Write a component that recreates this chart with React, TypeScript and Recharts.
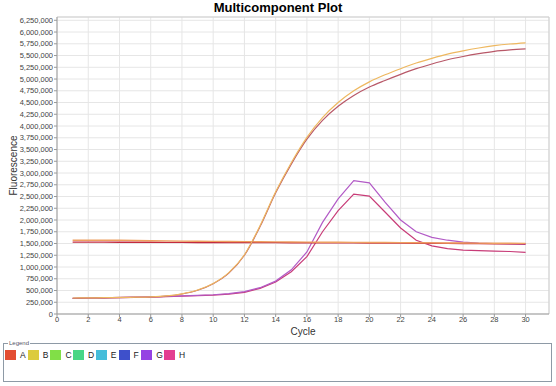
import React from 'react';
import { LineChart, Line, XAxis, YAxis, CartesianGrid, ReferenceLine, Label } from 'recharts';

const cycles = [1,2,3,4,5,6,7,8,9,10,11,12,13,14,15,16,17,18,19,20,21,22,23,24,25,26,27,28,29,30];

const ampHigh = [340000,343000,347000,352000,357000,365000,385000,430000,510000,650000,880000,1260000,1880000,2600000,3220000,3760000,4180000,4500000,4750000,4940000,5090000,5220000,5340000,5440000,5530000,5600000,5660000,5710000,5745000,5770000];
const ampLow = [335000,340000,345000,350000,355000,362000,380000,425000,505000,645000,870000,1250000,1860000,2580000,3190000,3720000,4120000,4420000,4650000,4830000,4970000,5100000,5220000,5320000,5410000,5480000,5540000,5590000,5620000,5640000];
const flatOrange = [1570000,1568000,1570000,1572000,1565000,1560000,1555000,1550000,1547000,1545000,1542000,1540000,1537000,1535000,1532000,1530000,1528000,1527000,1525000,1522000,1520000,1518000,1516000,1514000,1512000,1510000,1508000,1506000,1504000,1502000];
const flatRed = [1530000,1530000,1529000,1528000,1527000,1526000,1525000,1524000,1523000,1522000,1521000,1520000,1519000,1518000,1517000,1516000,1515000,1514000,1513000,1512000,1510000,1508000,1506000,1504000,1502000,1500000,1498000,1496000,1494000,1492000];
const peakHigh = [335000,340000,345000,352000,358000,365000,375000,385000,395000,410000,435000,475000,560000,700000,940000,1320000,1950000,2450000,2840000,2790000,2380000,2000000,1750000,1630000,1570000,1530000,1510000,1500000,1490000,1480000];
const peakLow = [330000,336000,342000,348000,354000,360000,370000,380000,390000,403000,425000,462000,545000,680000,900000,1220000,1750000,2200000,2550000,2510000,2170000,1830000,1570000,1450000,1390000,1360000,1350000,1340000,1330000,1310000];

const yTicks = [0,250000,500000,750000,1000000,1250000,1500000,1750000,2000000,2250000,2500000,2750000,3000000,3250000,3500000,3750000,4000000,4250000,4500000,4750000,5000000,5250000,5500000,5750000,6000000,6250000];
const xTicks = [0,2,4,6,8,10,12,14,16,18,20,22,24,26,28,30];

const legendNames = ['A','B','C','D','E','F','G','H'];
const legendColors = ['#e03a1c','#d9c62a','#74dc34','#34d27a','#30b6d6','#2a3ec6','#8a2ee0','#e02a86'];

const data = cycles.map((c, i) => ({
  cycle: c,
  ampHigh: ampHigh[i],
  ampLow: ampLow[i],
  flatOrange: flatOrange[i],
  flatRed: flatRed[i],
  peakHigh: peakHigh[i],
  peakLow: peakLow[i],
}));

const FONT = '"Liberation Sans", Arial, sans-serif';

export default function App() {
  return (
    <div style={{ position: 'absolute', left: 0, top: 0, width: 556, height: 386, background: '#fff', fontFamily: FONT }}>
      <div style={{ position: 'absolute', left: 0, top: 0, width: 556, textAlign: 'center', fontSize: 13, fontWeight: 'bold', lineHeight: '15px', color: '#000' }}>
        Multicomponent Plot
      </div>
      <div style={{ position: 'absolute', left: 0, top: 0 }}>
        <LineChart width={556} height={340} data={data} margin={{ top: 17, right: 7, left: 0, bottom: 6 }}>
          <CartesianGrid stroke="#e6e6e6" strokeWidth={1} />
          <XAxis
            type="number"
            dataKey="cycle"
            domain={[0, 31.5]}
            ticks={xTicks}
            interval={0}
            height={20}
            tickSize={3}
            tickMargin={0}
            tick={{ fontSize: 7.5, fill: '#444', fontFamily: FONT }}
            stroke="#999"
            allowDataOverflow
          />
          <YAxis
            type="number"
            domain={[0, 6320000]}
            ticks={yTicks}
            interval={0}
            width={57}
            tickSize={3}
            tickMargin={1}
            tick={{ fontSize: 7.5, fill: '#444', fontFamily: FONT }}
            tickFormatter={(v: number) => v.toLocaleString('en-US')}
            stroke="#999"
            allowDataOverflow
          >
            <Label value="Fluorescence" angle={-90} position="insideLeft" offset={13} style={{ fontSize: 10, fill: '#333', fontFamily: FONT, textAnchor: 'middle' }} />
          </YAxis>
          <ReferenceLine y={6320000} stroke="#cfcfcf" />
          <ReferenceLine x={31.5} stroke="#cfcfcf" />
          <Line type="linear" dataKey="peakLow" stroke="#c83c78" strokeWidth={1.2} dot={false} isAnimationActive={false} />
          <Line type="linear" dataKey="peakHigh" stroke="#b25ac6" strokeWidth={1.2} dot={false} isAnimationActive={false} />
          <Line type="linear" dataKey="flatRed" stroke="#c42a3e" strokeWidth={1.4} dot={false} isAnimationActive={false} />
          <Line type="linear" dataKey="flatOrange" stroke="#eea060" strokeWidth={1.4} dot={false} isAnimationActive={false} />
          <Line type="monotone" dataKey="ampLow" stroke="#b85868" strokeWidth={1.2} dot={false} isAnimationActive={false} />
          <Line type="monotone" dataKey="ampHigh" stroke="#eeb860" strokeWidth={1.2} dot={false} isAnimationActive={false} />
        </LineChart>
      </div>
      <div style={{ position: 'absolute', left: 253, top: 326, width: 100, textAlign: 'center', fontSize: 10, lineHeight: '11px', color: '#333' }}>
        Cycle
      </div>
      <div style={{ position: 'absolute', left: 3, top: 343, width: 547, height: 37, border: '1px solid #8e9aa6' }}>
        <div style={{ position: 'absolute', left: 4, top: -5, fontSize: 6, lineHeight: '8px', background: '#fff', padding: '0 1px', color: '#556' }}>Legend</div>
        {legendNames.map((n, i) => (
          <div key={n} style={{ position: 'absolute', left: 1 + i * 22.7, top: 6, height: 10, display: 'flex', alignItems: 'center' }}>
            <div style={{ width: 9, height: 8, background: legendColors[i], border: '1px solid ' + legendColors[i], opacity: 0.9 }} />
            <span style={{ marginLeft: 4, fontSize: 8.5, color: '#222' }}>{n}</span>
          </div>
        ))}
      </div>
    </div>
  );
}
